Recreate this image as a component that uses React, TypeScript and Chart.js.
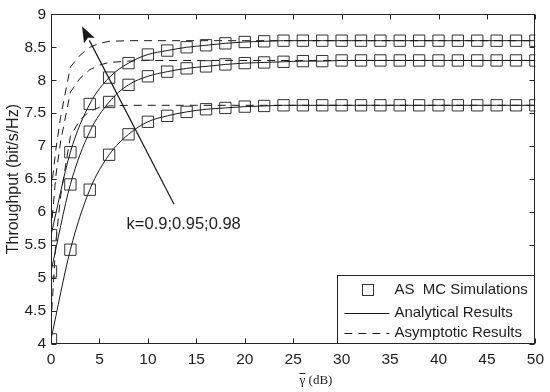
import { useEffect, useRef } from 'react';
import { Chart, registerables } from 'chart.js';

Chart.register(...registerables);

// ---------- data ----------
const xSim = [0, 2, 4, 6, 8, 10, 12, 14, 16, 18, 20, 22, 24, 26, 28, 30, 32, 34, 36, 38, 40, 42, 44, 46, 48, 50];
const simK098 = [5.65, 6.91, 7.64, 8.04, 8.26, 8.39, 8.45, 8.5, 8.53, 8.56, 8.58, 8.59, 8.6, 8.6, 8.6, 8.6, 8.6, 8.6, 8.6, 8.6, 8.6, 8.6, 8.6, 8.6, 8.6, 8.6];
const simK095 = [5.1, 6.42, 7.22, 7.67, 7.93, 8.06, 8.13, 8.18, 8.21, 8.24, 8.26, 8.27, 8.28, 8.29, 8.29, 8.3, 8.3, 8.3, 8.3, 8.3, 8.3, 8.3, 8.3, 8.3, 8.3, 8.3];
const simK090 = [4.07, 5.43, 6.34, 6.87, 7.18, 7.37, 7.46, 7.52, 7.56, 7.58, 7.6, 7.61, 7.62, 7.62, 7.62, 7.62, 7.62, 7.62, 7.62, 7.62, 7.62, 7.62, 7.62, 7.62, 7.62, 7.62];

const xAsym = [0, 0.5, 1, 2, 3, 4, 5, 6, 8, 10, 15, 20, 25, 30, 35, 40, 45, 50];
const asymK098 = [6.3, 6.95, 7.45, 8.2, 8.38, 8.5, 8.56, 8.59, 8.6, 8.6, 8.6, 8.6, 8.6, 8.6, 8.6, 8.6, 8.6, 8.6];
const asymK095 = [5.7, 6.55, 7.08, 7.82, 8.03, 8.16, 8.23, 8.27, 8.29, 8.3, 8.3, 8.3, 8.3, 8.3, 8.3, 8.3, 8.3, 8.3];
const asymK090 = [4.3, 5.55, 6.25, 7.15, 7.4, 7.53, 7.59, 7.61, 7.62, 7.62, 7.62, 7.62, 7.62, 7.62, 7.62, 7.62, 7.62, 7.62];

const xTicks = [0, 5, 10, 15, 20, 25, 30, 35, 40, 45, 50];
const xTickLabels = ['0', '5', '10', '15', '20', '25', '30', '35', '40', '45', '50'];
const yTicks = [4, 4.5, 5, 5.5, 6, 6.5, 7, 7.5, 8, 8.5, 9];
const yTickLabels = ['4', '4.5', '5', '5.5', '6', '6.5', '7', '7.5', '8', '8.5', '9'];

const legendLabels = ['AS  MC Simulations', 'Analytical Results', 'Asymptotic Results'];
const arrowLabel = 'k=0.9;0.95;0.98';
const arrowTail = { x: 12.7, y: 6.12 };
const arrowTip = { x: 3.2, y: 8.82 };
const arrowLabelPos = { x: 7.8, y: 5.82 };
const yTitle = 'Throughput (bit/s/Hz)';
const xTitleSymbol = 'γ';
const xTitleUnit = ' (dB)';

const SANS = '"Liberation Sans", Arial, sans-serif';
const SERIF = '"Liberation Serif", "Times New Roman", serif';
const INK = '#1a1a1a';

const pts = (xs: number[], ys: number[]) => xs.map((x, i) => ({ x, y: ys[i] }));

const overlay = {
  id: 'overlay',
  afterDraw(chart: any) {
    const { ctx, chartArea: a, scales } = chart;
    const xs = scales.x;
    const ys = scales.y;
    ctx.save();
    // axes box
    ctx.strokeStyle = '#262626';
    ctx.lineWidth = 1;
    const L = Math.round(a.left) + 0.5;
    const R = Math.round(a.right) - 0.5;
    const T = Math.round(a.top) + 0.5;
    const B = Math.round(a.bottom) - 0.5;
    ctx.strokeRect(L, T, R - L, B - T);
    // inward ticks
    ctx.beginPath();
    xTicks.forEach((v) => {
      const px = Math.round(xs.getPixelForValue(v)) + 0.5;
      ctx.moveTo(px, B);
      ctx.lineTo(px, B - 5);
      ctx.moveTo(px, T);
      ctx.lineTo(px, T + 5);
    });
    yTicks.forEach((v) => {
      const py = Math.round(ys.getPixelForValue(v)) + 0.5;
      ctx.moveTo(L, py);
      ctx.lineTo(L + 5, py);
      ctx.moveTo(R, py);
      ctx.lineTo(R - 5, py);
    });
    ctx.stroke();

    // arrow
    const tx = xs.getPixelForValue(arrowTail.x);
    const ty = ys.getPixelForValue(arrowTail.y);
    const hx = xs.getPixelForValue(arrowTip.x);
    const hy = ys.getPixelForValue(arrowTip.y);
    const ang = Math.atan2(hy - ty, hx - tx);
    const hl = 16;
    const hw = 6;
    const bx = hx - hl * Math.cos(ang);
    const by = hy - hl * Math.sin(ang);
    ctx.strokeStyle = INK;
    ctx.fillStyle = INK;
    ctx.lineWidth = 1.2;
    ctx.beginPath();
    ctx.moveTo(tx, ty);
    ctx.lineTo(bx, by);
    ctx.stroke();
    ctx.lineWidth = 1;
    ctx.beginPath();
    ctx.moveTo(hx, hy);
    ctx.lineTo(bx + hw * Math.sin(ang), by - hw * Math.cos(ang));
    ctx.lineTo(bx + 3 * Math.cos(ang), by + 3 * Math.sin(ang));
    ctx.lineTo(bx - hw * Math.sin(ang), by + hw * Math.cos(ang));
    ctx.closePath();
    ctx.fill();

    // arrow label
    ctx.font = `16.5px ${SANS}`;
    ctx.textAlign = 'left';
    ctx.textBaseline = 'middle';
    ctx.fillStyle = '#1e1e1e';
    ctx.fillText(arrowLabel, xs.getPixelForValue(arrowLabelPos.x), ys.getPixelForValue(arrowLabelPos.y));

    // legend
    const lx = Math.round(a.right - 198) + 0.5;
    const ly = Math.round(a.bottom - 69) + 0.5;
    ctx.fillStyle = '#fff';
    ctx.fillRect(lx, ly, R - lx, B - ly);
    ctx.strokeStyle = '#262626';
    ctx.strokeRect(lx, ly, R - lx, B - ly);
    const rows = [ly + 14, ly + 37, ly + 57];
    const itemL = a.right - 191;
    const itemR = a.right - 146;
    const textX = a.right - 141;
    // marker
    ctx.strokeStyle = '#333';
    ctx.strokeRect(Math.round(a.right - 173) + 0.5, Math.round(rows[0] - 5.5) + 0.5, 11, 11);
    // solid
    ctx.strokeStyle = INK;
    ctx.beginPath();
    ctx.moveTo(itemL, Math.round(rows[1]) + 0.5);
    ctx.lineTo(itemR, Math.round(rows[1]) + 0.5);
    ctx.stroke();
    // dashed
    ctx.setLineDash([8, 6]);
    ctx.beginPath();
    ctx.moveTo(itemL, Math.round(rows[2]) + 0.5);
    ctx.lineTo(itemR, Math.round(rows[2]) + 0.5);
    ctx.stroke();
    ctx.setLineDash([]);
    ctx.fillStyle = '#1e1e1e';
    ctx.font = `15px ${SANS}`;
    legendLabels.forEach((t, i) => ctx.fillText(t, textX, rows[i]));

    // y title
    ctx.save();
    ctx.translate(14, (a.top + a.bottom) / 2);
    ctx.rotate(-Math.PI / 2);
    ctx.textAlign = 'center';
    ctx.textBaseline = 'middle';
    ctx.font = `16px ${SANS}`;
    ctx.fillText(yTitle, 0, 0);
    ctx.restore();

    // x title
    ctx.font = `13px ${SERIF}`;
    ctx.textBaseline = 'alphabetic';
    ctx.textAlign = 'left';
    const wS = ctx.measureText(xTitleSymbol).width;
    const wU = ctx.measureText(xTitleUnit).width;
    const sx = 316 - (wS + wU) / 2;
    const base = 384;
    ctx.fillText(xTitleSymbol, sx, base);
    ctx.fillText(xTitleUnit, sx + wS, base);
    ctx.strokeStyle = '#222';
    ctx.beginPath();
    ctx.moveTo(sx, base - 10.5);
    ctx.lineTo(sx + wS, base - 10.5);
    ctx.stroke();

    ctx.restore();
  },
};

export default function App() {
  const ref = useRef<HTMLCanvasElement | null>(null);
  useEffect(() => {
    if (!ref.current) return;
    const series = [simK098, simK095, simK090];
    const asym = [asymK098, asymK095, asymK090];
    const datasets: any[] = [];
    series.forEach((s) => {
      datasets.push({
        data: pts(xSim, s),
        borderColor: INK,
        borderWidth: 1,
        pointRadius: 0,
        cubicInterpolationMode: 'monotone',
        fill: false,
      });
      datasets.push({
        data: pts(xSim, s),
        showLine: false,
        pointStyle: 'rect',
        pointRadius: 8,
        pointBorderColor: '#333',
        pointBackgroundColor: 'rgba(0,0,0,0)',
        pointBorderWidth: 1,
      });
    });
    asym.forEach((s) => {
      datasets.push({
        data: pts(xAsym, s),
        borderColor: INK,
        borderWidth: 1,
        borderDash: [8, 6],
        pointRadius: 0,
        tension: 0,
        fill: false,
      });
    });
    const tickFont = { family: SANS, size: 15.5 };
    const chart = new Chart(ref.current, {
      type: 'line',
      data: { datasets },
      plugins: [overlay],
      options: {
        animation: false,
        responsive: false,
        layout: { padding: { top: 9, right: 11, left: 0, bottom: 0 } },
        plugins: { legend: { display: false }, tooltip: { enabled: false } },
        scales: {
          x: {
            type: 'linear',
            min: 0,
            max: 50,
            grid: { display: false, drawTicks: false },
            border: { display: false },
            afterBuildTicks: (s: any) => {
              s.ticks = xTicks.map((v) => ({ value: v }));
            },
            ticks: {
              padding: 6,
              color: '#1e1e1e',
              font: tickFont,
              maxRotation: 0,
              autoSkip: false,
              callback: (v: any) => xTickLabels[xTicks.indexOf(Number(v))] ?? '',
            },
            afterFit: (s: any) => {
              s.height = 48;
            },
          },
          y: {
            type: 'linear',
            min: 4,
            max: 9,
            grid: { display: false, drawTicks: false },
            border: { display: false },
            afterBuildTicks: (s: any) => {
              s.ticks = yTicks.map((v) => ({ value: v }));
            },
            ticks: {
              padding: 5,
              color: '#1e1e1e',
              font: tickFont,
              autoSkip: false,
              callback: (v: any) => yTickLabels[yTicks.indexOf(Number(v))] ?? '',
            },
            afterFit: (s: any) => {
              s.width = 51;
            },
          },
        },
      } as any,
    });
    return () => chart.destroy();
  }, []);
  return (
    <div style={{ position: 'absolute', left: 0, top: 0, width: 550, height: 392, background: '#fff' }}>
      <canvas ref={ref} width={550} height={392} style={{ display: 'block' }} />
    </div>
  );
}
